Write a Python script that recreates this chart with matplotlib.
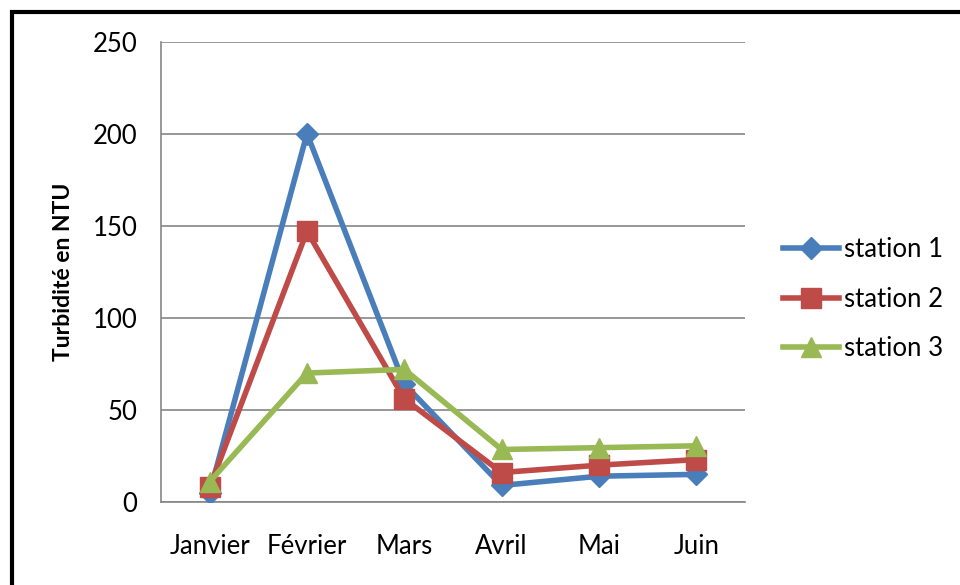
import matplotlib.pyplot as plt
from matplotlib.patches import Rectangle

plt.rcParams['font.family'] = ['Lato', 'DejaVu Sans']

mois = ["Janvier", "Février", "Mars", "Avril", "Mai", "Juin"]
station1 = [5, 200, 64, 9, 14, 15]
station2 = [8, 147, 56, 16, 20, 23]
station3 = [11, 70, 72, 28.5, 29.5, 30.5]

fig = plt.figure(figsize=(9.6, 5.85), dpi=100)
ax = fig.add_axes([0.1677, 0.1419, 0.6083, 0.7871])

x = range(len(mois))
ax.plot(x, station1, color="#4A7EBB", lw=4, marker="D", ms=11, label="station 1", zorder=3)
ax.plot(x, station2, color="#BE4B48", lw=4, marker="s", ms=14, label="station 2", zorder=4)
ax.plot(x, station3, color="#98B954", lw=4, marker="^", ms=15, label="station 3", zorder=5)

ax.set_xlim(-0.5, len(mois) - 0.5)
ax.set_ylim(0, 250)
ax.set_yticks(range(0, 251, 50))
ax.set_xticks(list(x))
ax.set_xticklabels(mois)
ax.grid(axis="y", color="#868686", lw=1.2)
ax.set_axisbelow(True)
for s in ["top", "right"]:
    ax.spines[s].set_visible(False)
for s in ["left", "bottom"]:
    ax.spines[s].set_color("#868686")
    ax.spines[s].set_linewidth(1.2)
ax.tick_params(length=0, labelsize=18.5)
ax.tick_params(axis="y", pad=17)
ax.tick_params(axis="x", pad=23)
ax.set_ylabel("Turbidité en NTU", fontsize=16.5, fontweight="bold", labelpad=13)

ax.legend(loc="center left", bbox_to_anchor=(1.025, 0.44), frameon=False,
          fontsize=18.5, handlelength=2.2, handletextpad=0.2, labelspacing=0.95)

# cadre noir autour du graphique
fig.add_artist(Rectangle((12 / 960, -0.1), 1.2, 1 - 12 / 585 + 0.1,
                         transform=fig.transFigure, fill=False,
                         edgecolor="black", lw=3))

fig.savefig("out.png", dpi=100)
